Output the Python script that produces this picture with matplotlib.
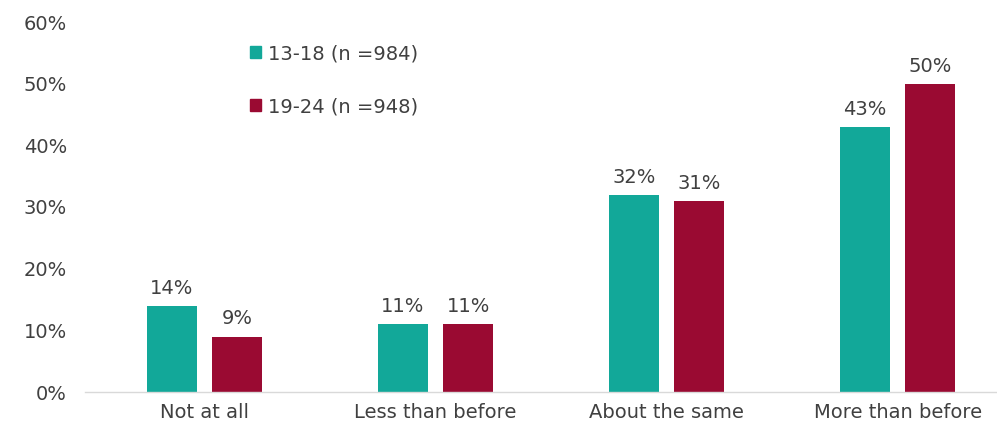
import matplotlib
matplotlib.use("Agg")
import matplotlib.pyplot as plt
from matplotlib.patches import Patch
import numpy as np

plt.rcParams['font.family'] = ['DejaVu Sans']

categories = ["Not at all", "Less than before", "About the same", "More than before"]
series_names = ["13-18 (n =984)", "19-24 (n =948)"]
values_13_18 = [14, 11, 32, 43]
values_19_24 = [9, 11, 31, 50]
yticks = [0, 10, 20, 30, 40, 50, 60]

c_teal = "#12a899"
c_maroon = "#9a0a32"
txt = "#404040"
fs = 14

fig = plt.figure(figsize=(9.97, 4.32), dpi=100)
ax = fig.add_axes([85/997, 40/432, 1 - 85/997, (392-22)/432])

x = np.arange(len(categories))
w = 0.216
off = 0.141
b1 = ax.bar(x - off, values_13_18, w, color=c_teal)
b2 = ax.bar(x + off, values_19_24, w, color=c_maroon)

for bars, vals in ((b1, values_13_18), (b2, values_19_24)):
    for b, v in zip(bars, vals):
        ax.text(b.get_x() + b.get_width()/2, v + 1.3, f"{v}%", ha="center", va="bottom",
                fontsize=fs, color=txt)

ax.set_ylim(0, 60)
ax.set_xlim(-0.517, 3.43)
ax.set_yticks(yticks)
ax.set_yticklabels([f"{t}%" for t in yticks], fontsize=fs, color=txt)
ax.set_xticks(x)
ax.set_xticklabels(categories, fontsize=fs, color=txt)
ax.tick_params(axis="y", length=0, pad=13)
ax.tick_params(axis="x", length=0, pad=8)
for s in ("top", "right", "left"):
    ax.spines[s].set_visible(False)
ax.spines["bottom"].set_color("#d9d9d9")
ax.spines["bottom"].set_linewidth(1)

handles = [Patch(color=c_teal), Patch(color=c_maroon)]
leg = fig.legend(handles, series_names, loc="upper left", bbox_to_anchor=(250/997, 1 - 44/432),
                 frameon=False, fontsize=fs, handlelength=0.55, handleheight=0.55,
                 handletextpad=0.4, labelspacing=1.75, borderaxespad=0, borderpad=0)
for t in leg.get_texts():
    t.set_color(txt)

fig.savefig("out.png", dpi=100)
